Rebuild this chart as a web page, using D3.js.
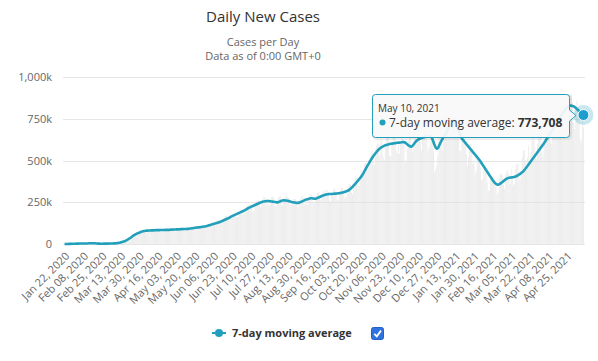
<!DOCTYPE html>
<html>
<head>
<meta charset="utf-8">
<script src="https://cdn.jsdelivr.net/npm/d3@7"></script>
<style>
  body { margin: 0; background: #fff; }
  svg { display: block; font-family: "Open Sans", sans-serif; }
</style>
</head>
<body>
<div id="chart"></div>
<script>
// first and last day of the category axis (one category per day)
var firstDay = new Date(2020, 0, 22),
    lastDay = new Date(2021, 4, 10);

// x axis labels, one every 17 days
var tickLabels = ["Jan 22, 2020", "Feb 08, 2020", "Feb 25, 2020", "Mar 13, 2020", "Mar 30, 2020",
  "Apr 16, 2020", "May 03, 2020", "May 20, 2020", "Jun 06, 2020", "Jun 23, 2020", "Jul 10, 2020",
  "Jul 27, 2020", "Aug 13, 2020", "Aug 30, 2020", "Sep 16, 2020", "Oct 03, 2020", "Oct 20, 2020",
  "Nov 06, 2020", "Nov 23, 2020", "Dec 10, 2020", "Dec 27, 2020", "Jan 13, 2021", "Jan 30, 2021",
  "Feb 16, 2021", "Mar 05, 2021", "Mar 22, 2021", "Apr 08, 2021", "Apr 25, 2021"];

// y axis ticks, thousands of cases
var yTicks = [0, 250, 500, 750, 1000];

// daily new cases (thousands), one row per 17 days
var dailyCases = [
  0.1,0.3,0.3,0.5,0.7,0.8,1.2,1.5,1.9,2.1,2.6,2.0,2.8,3.2,3.9,3.7,3.2,
  3.4,2.6,3.0,2.1,2.0,15.1,6.5,2.6,2.1,2.0,1.9,0.6,0.9,0.5,0.7,0.4,0.9,
  1.0,1.2,1.4,2.0,2.0,1.8,2.2,2.4,2.7,2.7,3.9,3.9,4.4,4.5,7.3,7.8,9.3,
  12,11,14,17,16,25,29,32,33,40,42,57,62,64,65,62,61,
  62,76,80,84,88,84,70,67,78,82,90,92,81,75,72,83,87,
  89,86,78,72,78,86,92,88,80,76,79,84,88,93,90,78,76,
  79,76,87,93,96,98,84,82,92,96,101,100,92,88,97,102,105,
  103,106,105,91,92,101,106,112,114,112,96,104,114,122,128,129,107,
  133,113,110,142,145,146,142,126,129,150,158,167,170,147,143,163,170,
  168,178,185,186,163,160,182,197,208,210,190,181,205,220,230,232,205,
  240,235,195,200,228,250,258,262,240,220,248,268,285,280,250,232,255,
  230,262,280,285,280,232,225,255,275,285,288,264,230,248,272,282,290,
  283,275,235,230,250,270,272,268,255,222,238,262,283,290,275,238,245,
  238,235,275,288,300,295,250,240,265,290,305,315,270,260,300,315,320,
  305,325,322,305,262,255,300,310,330,332,312,265,262,308,320,335,338,
  318,278,280,325,345,360,355,310,300,360,385,405,400,355,350,420,450,
  415,445,480,490,455,440,505,525,545,555,505,475,570,590,610,600,530,
  625,610,525,500,580,640,660,640,530,525,600,640,670,650,560,540,595,
  540,600,660,630,600,495,500,570,620,680,660,580,555,610,680,700,690,
  700,690,615,560,640,680,700,720,660,560,580,690,705,650,560,430,450,
  470,530,660,740,720,560,640,790,800,840,760,640,700,760,850,840,760,
  760,740,720,640,560,560,640,660,650,620,540,470,520,590,600,570,480,
  500,420,440,510,530,500,460,380,390,440,450,430,370,320,320,390,390,
  385,400,400,380,300,310,400,420,420,410,355,330,420,440,440,420,360,
  450,410,350,360,450,480,480,440,380,420,520,560,560,500,440,520,590,
  500,550,620,650,620,530,510,600,660,700,680,560,520,620,700,760,740,
  750,730,620,600,690,790,830,810,720,680,800,880,880,840,740,700,830,
  740,730,850,890,900,850,730,690,800,860,820,770,630,610,750,700
];

// 7-day moving average (thousands), same days
var movingAverage = [
  0.1,0.2,0.3,0.4,0.6,0.8,1.0,1.2,1.5,1.7,1.9,2.1,2.3,2.5,2.6,2.8,3.0,
  3.1,3.1,3.0,2.9,2.9,4.6,4.9,4.9,4.8,4.7,4.6,4.5,2.7,2.5,2.2,2.0,1.9,
  1.9,1.9,2.0,2.1,2.2,2.3,2.5,2.7,2.9,3.1,3.4,3.7,4.0,4.5,5.2,6.0,7.5,
  9,11,13,15,17,20,24,28,32,36,41,46,51,55,59,62,65,
  67,70,73,75,77,78,79,80,80,81,81,82,82,82,82,83,83,
  83,83,83,84,84,84,84,85,85,85,85,85,86,86,86,87,87,
  88,88,88,88,89,89,89,90,90,90,91,91,92,93,94,95,96,
  97,98,99,100,100,101,102,103,104,105,106,108,110,112,114,116,118,
  120,122,124,126,128,130,132,135,138,141,144,147,150,153,156,160,164,
  167,170,173,176,179,182,185,188,191,194,197,200,204,208,212,216,219,
  222,225,228,231,234,237,240,243,246,249,252,254,255,256,257,258,258,
  257,256,255,254,253,252,251,250,251,253,256,259,261,262,262,261,260,
  259,257,255,253,251,250,249,248,247,247,248,250,253,256,259,262,265,
  267,269,271,273,274,274,273,272,271,273,276,279,282,285,288,291,293,
  295,297,298,299,300,300,300,301,301,302,302,303,304,305,306,307,309,
  311,313,315,318,321,325,330,336,343,350,357,364,372,380,388,396,404,
  414,425,437,449,461,473,484,495,506,516,526,535,544,552,560,567,573,
  578,582,586,589,592,594,596,598,600,601,602,603,604,605,606,607,608,
  608,609,610,611,611,609,604,598,592,588,585,584,590,598,607,615,621,
  626,630,633,636,638,640,642,643,644,645,645,646,645,630,612,594,580,
  572,575,588,602,615,628,640,650,658,670,685,700,715,728,737,740,736,
  728,714,698,681,664,648,632,624,616,608,600,592,584,576,568,560,552,
  544,536,528,520,512,504,494,484,474,464,454,444,434,424,414,404,394,
  384,375,367,361,357,356,358,362,367,372,378,383,388,392,395,397,398,
  399,400,401,403,405,408,412,416,420,425,430,436,443,451,460,469,478,
  487,496,505,514,523,532,541,550,559,568,577,586,595,605,615,625,635,
  645,656,667,678,689,700,711,722,733,744,754,764,774,784,794,804,813,
  820,825,828,830,830,828,825,821,816,810,804,798,792,786,780,773.708
];

var days = d3.timeDay.range(firstDay, d3.timeDay.offset(lastDay, 1));

var width = 598, height = 361;
var lineColor = "#22a0bb";

var svg = d3.select("#chart")
  .append("svg")
    .attr("width", width)
    .attr("height", height);

// titles
svg.append("text")
    .attr("x", 263).attr("y", 22)
    .attr("text-anchor", "middle")
    .style("font-size", "15px")
    .style("fill", "#333")
    .text("Daily New Cases");
svg.append("text")
    .attr("x", 263).attr("y", 46)
    .attr("text-anchor", "middle")
    .style("font-size", "11px")
    .style("fill", "#666")
    .text("Cases per Day");
svg.append("text")
    .attr("x", 263).attr("y", 60)
    .attr("text-anchor", "middle")
    .style("font-size", "11px")
    .style("fill", "#666")
    .text("Data as of 0:00 GMT+0");

// scales
var x = d3.scaleBand()
    .domain(d3.range(days.length))
    .range([64, 584]);
var cx = function(i){ return x(i) + x.bandwidth() / 2; };

var y = d3.scaleLinear()
    .domain([0, 1000])
    .range([244, 77.3]);

// grid lines
svg.append("g")
  .selectAll("line")
  .data(yTicks)
  .join("line")
    .attr("x1", 63)
    .attr("x2", 585)
    .attr("y1", function(d){ return Math.round(y(d)) + 0.5; })
    .attr("y2", function(d){ return Math.round(y(d)) + 0.5; })
    .attr("stroke", "#e6e6e6");

// daily bars
svg.append("g")
  .selectAll("rect")
  .data(dailyCases)
  .join("rect")
    .attr("x", function(d, i){ return x(i) + 0.1; })
    .attr("width", x.bandwidth() * 0.85)
    .attr("y", function(d){ return y(d); })
    .attr("height", function(d){ return y(0) - y(d); })
    .attr("fill", "#e2e2e2")
    .attr("fill-opacity", 0.65);

// y axis
var yAxis = svg.append("g")
    .attr("transform", "translate(55,0)")
    .call(d3.axisLeft(y)
      .tickValues(yTicks)
      .tickSize(0)
      .tickPadding(3)
      .tickFormat(function(d){ return d === 0 ? "0" : d3.format(",")(d) + "k"; }));
yAxis.select(".domain").remove();
yAxis.selectAll("text")
    .style("font-family", "Open Sans")
    .style("font-size", "11px")
    .style("fill", "#666");

// x axis
var xAxis = svg.append("g")
    .attr("transform", "translate(0,244)")
    .call(d3.axisBottom(x)
      .tickValues(tickLabels.map(function(d, k){ return k * 17; }))
      .tickSize(0)
      .tickFormat(function(i){ return tickLabels[i / 17]; }));
xAxis.select(".domain").remove();
xAxis.selectAll("text")
    .attr("x", 0)
    .attr("y", 0)
    .attr("dy", "0.35em")
    .attr("transform", "translate(3,10) rotate(-45)")
    .style("text-anchor", "end")
    .style("font-family", "Open Sans")
    .style("font-size", "11px")
    .style("fill", "#666");

// moving average line
var line = d3.line()
    .x(function(d, i){ return cx(i); })
    .y(function(d){ return y(d); })
    .curve(d3.curveMonotoneX);
svg.append("path")
    .datum(movingAverage)
    .attr("d", line)
    .attr("fill", "none")
    .attr("stroke", lineColor)
    .attr("stroke-width", 2.6)
    .attr("stroke-linejoin", "round");

// hovered point
var last = movingAverage.length - 1;
svg.append("circle")
    .attr("cx", cx(last)).attr("cy", y(movingAverage[last]))
    .attr("r", 10)
    .attr("fill", lineColor)
    .attr("fill-opacity", 0.25);
svg.append("circle")
    .attr("cx", cx(last)).attr("cy", y(movingAverage[last]))
    .attr("r", 5.5)
    .attr("fill", "#1c9fd0")
    .attr("stroke", "#fff")
    .attr("stroke-width", 1);

// tooltip
var tip = svg.append("g");
tip.append("rect")
    .attr("x", 373.5).attr("y", 95.5)
    .attr("width", 197).attr("height", 43)
    .attr("rx", 3)
    .attr("fill", "none")
    .attr("stroke", "rgba(0,0,0,0.07)")
    .attr("stroke-width", 3);
tip.append("path")
    .attr("d", "M375.5,94.5 H566.5 Q569.5,94.5 569.5,97.5 V110 L576,115.5 L569.5,121 V134.5 Q569.5,137.5 566.5,137.5 H375.5 Q372.5,137.5 372.5,134.5 V97.5 Q372.5,94.5 375.5,94.5 Z")
    .attr("fill", "rgba(249,249,249,0.93)")
    .attr("stroke", lineColor)
    .attr("stroke-width", 1);
tip.append("text")
    .attr("x", 378).attr("y", 112)
    .style("font-size", "10px")
    .style("fill", "#333")
    .text(d3.timeFormat("%b %d, %Y")(days[last]));
tip.append("circle")
    .attr("cx", 382.5).attr("cy", 122.5)
    .attr("r", 3)
    .attr("fill", lineColor);
var tipText = tip.append("text")
    .attr("x", 389).attr("y", 126.5)
    .style("font-size", "12px")
    .style("fill", "#333");
tipText.append("tspan").text("7-day moving average: ");
tipText.append("tspan")
    .style("font-weight", "bold")
    .text(d3.format(",")(Math.round(movingAverage[last] * 1000)));

// legend
var legend = svg.append("g");
legend.append("line")
    .attr("x1", 212).attr("x2", 226)
    .attr("y1", 333).attr("y2", 333)
    .attr("stroke", lineColor)
    .attr("stroke-width", 2);
legend.append("circle")
    .attr("cx", 219).attr("cy", 333)
    .attr("r", 4)
    .attr("fill", lineColor);
legend.append("text")
    .attr("x", 232).attr("y", 337)
    .style("font-size", "11px")
    .style("font-weight", "bold")
    .style("fill", "#333")
    .text("7-day moving average");
legend.append("rect")
    .attr("x", 371.5).attr("y", 327.5)
    .attr("width", 12).attr("height", 12)
    .attr("rx", 2)
    .attr("fill", "#2f72e0")
    .attr("stroke", "#245fc4");
legend.append("path")
    .attr("d", "M374.3,333.8 L376.8,336.3 L381,330.6")
    .attr("fill", "none")
    .attr("stroke", "#fff")
    .attr("stroke-width", 1.8);
</script>
</body>
</html>
